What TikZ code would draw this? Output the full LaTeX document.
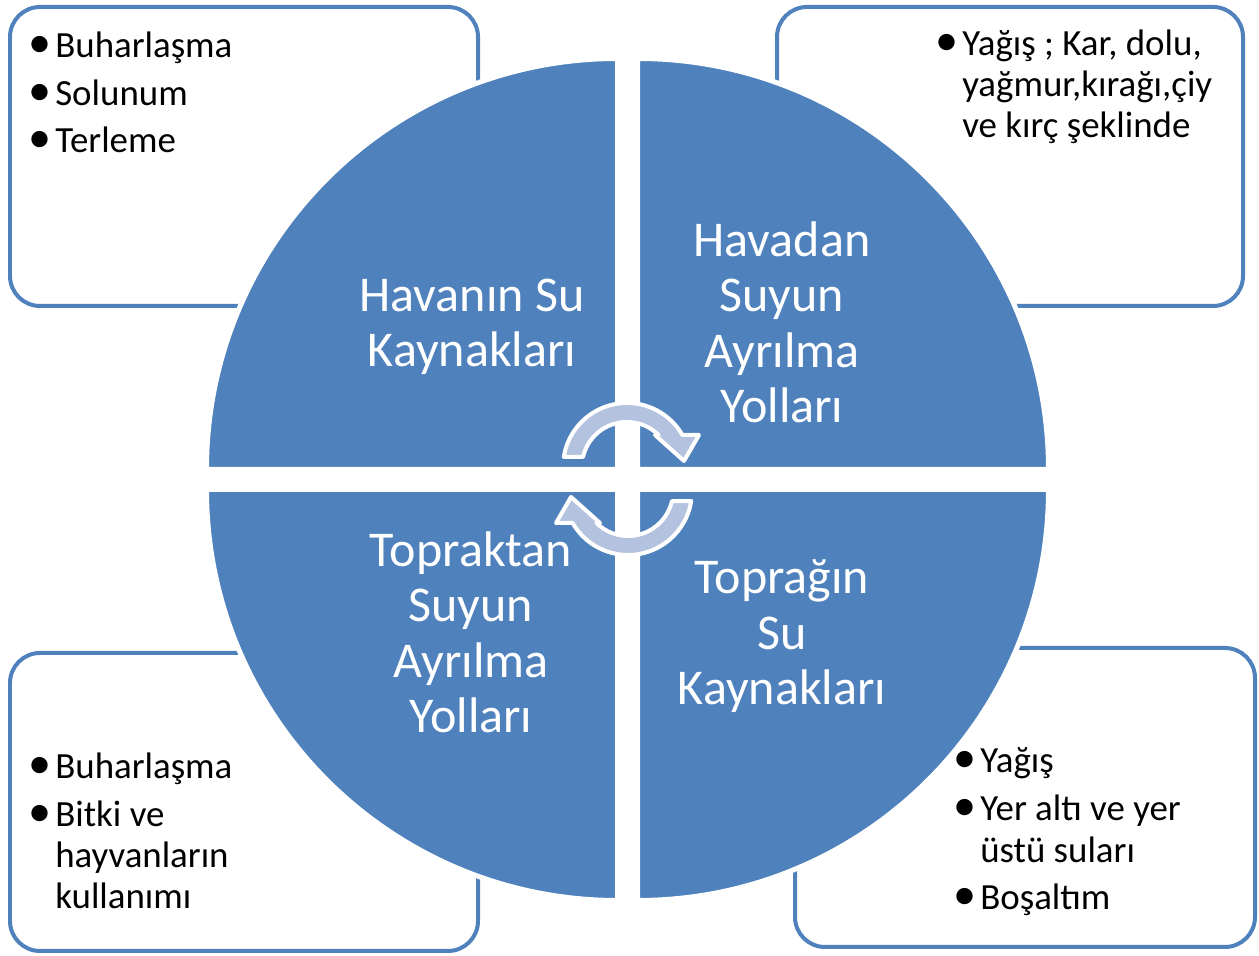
\documentclass[tikz,border=0pt]{standalone}
\usepackage{graphicx}
\usepackage{fontspec}
\setmainfont{Carlito}

\definecolor{quadblue}{RGB}{79,129,189}
\definecolor{arrowblue}{RGB}{179,194,222}
\newcommand{\bul}{\makebox[12.5pt][l]{\hspace{-2.5pt}\scalebox{1.25}{\textbullet}}}
\newcommand{\ind}{\hspace*{12.5pt}}

\begin{document}
\begin{tikzpicture}[x=0.02cm, y=0.02cm,
  box/.style={draw=quadblue, line width=0.08cm, fill=white, rounded corners=0.6cm},
  quad/.style={fill=quadblue, draw=white, line width=0.1cm},
  cyc/.style={fill=arrowblue, draw=white, line width=0.08cm, line join=round},
  blist/.style={anchor=base west, align=left, inner sep=0pt, font=\fontsize{21pt}{23.6pt}\selectfont},
  qtext/.style={anchor=base, align=center, inner sep=0pt, text=white, font=\fontsize{28.5pt}{31.6pt}\selectfont}]

\useasboundingbox (0,0) rectangle (1259,956);

% boxes behind the circle
\draw[box] (10,650) rectangle (478,949);
\draw[box] (777,650) rectangle (1243,949);
\draw[box] (10,5) rectangle (478,303);
\draw[box] (795,9) rectangle (1255,308);

% four quarters
\filldraw[quad] (617.5,486.5) -- ++(-411,0) arc[start angle=180, end angle=90, radius=411] -- cycle;
\filldraw[quad] (637.5,486.5) -- ++(0,411) arc[start angle=90, end angle=0, radius=411] -- cycle;
\filldraw[quad] (637.5,466.5) -- ++(411,0) arc[start angle=0, end angle=-90, radius=411] -- cycle;
\filldraw[quad] (617.5,466.5) -- ++(0,-411) arc[start angle=270, end angle=180, radius=411] -- cycle;

% cycle arrows
\filldraw[cyc, shift={(627,489)}] (171:64) arc[start angle=171, end angle=30, radius=64] -- (72,32) -- (57,6) -- (28,32) -- (31.6,32) arc[start angle=45.3, end angle=167, radius=45] -- cycle;
\filldraw[cyc, shift={(628,465)}, rotate=180] (171:64) arc[start angle=171, end angle=30, radius=64] -- (72,32) -- (57,6) -- (28,32) -- (31.6,32) arc[start angle=45.3, end angle=167, radius=45] -- cycle;

% quarter titles (base = last line)
\node[qtext] (q1) at (472,589) {Havanın Su\\Kaynakları};
\node[qtext] (q2) at (782,533) {Havadan\\Suyun\\Ayrılma\\Yolları};
\node[qtext] (q3) at (471,223) {Topraktan\\Suyun\\Ayrılma\\Yolları};
\node[qtext] (q4) at (782,251) {Toprağın\\Su\\Kaynakları};

% bullet lists (base = last line)
\node[blist] (b1) at (33,803) {\bul Buharlaşma\\[3.7pt]\bul Solunum\\[3.7pt]\bul Terleme};
\node[blist] (b2) at (940,818) {\bul Yağış ; Kar, dolu,\\\ind yağmur,kırağı,çiy\\\ind ve kırç şeklinde};
\node[blist] (b3) at (33,47) {\bul Buharlaşma\\[3.7pt]\bul Bitki ve\\\ind hayvanların\\\ind kullanımı};
\node[blist] (b4) at (958,46) {\bul Yağış\\[3.7pt]\bul Yer altı ve yer\\\ind üstü suları\\[3.7pt]\bul Boşaltım};
\end{tikzpicture}
\end{document}
